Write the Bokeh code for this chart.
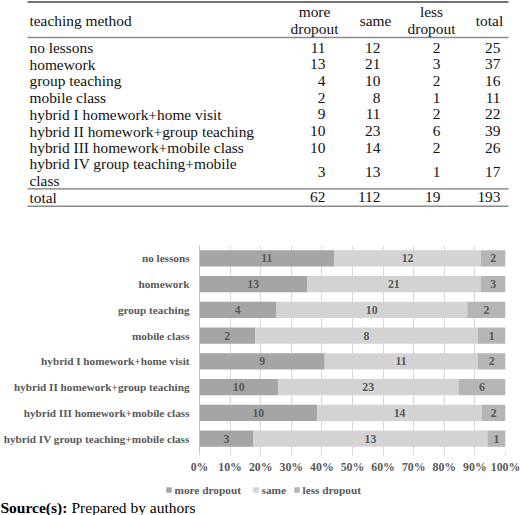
import pandas as pd
from bokeh.plotting import figure
from bokeh.models import (ColumnDataSource, Range1d, FactorRange, NumeralTickFormatter,
                          FixedTicker)
from bokeh.layouts import column
from bokeh.embed import file_html
from bokeh.resources import INLINE
from bokeh.core.properties import value

# ---------------- data ----------------
methods = ["no lessons", "homework", "group teaching", "mobile class",
           "hybrid I homework+home visit", "hybrid II homework+group teaching",
           "hybrid III homework+mobile class", "hybrid IV group teaching+mobile class"]
more_dropout = [11, 13, 4, 2, 9, 10, 10, 3]
same = [12, 21, 10, 8, 11, 23, 14, 13]
less_dropout = [2, 3, 2, 1, 2, 6, 2, 1]
series_names = ["more dropout", "same", "less dropout"]
table_headers = ["teaching method", "more\ndropout", "same", "less\ndropout", "total"]
total_label = "total"
x_ticks = [0.0, 0.1, 0.2, 0.3, 0.4, 0.5, 0.6, 0.7, 0.8, 0.9, 1.0]
source_bold = "Source(s):"
source_text = "Prepared by authors"

colors = ["#a5a5a5", "#d3d3d3", "#b5b5b5"]
SERIF = "Liberation Serif"
GRAY_TXT = "#595959"

df = pd.DataFrame({"method": methods, "more": more_dropout, "same": same, "less": less_dropout})
df["total"] = df[["more", "same", "less"]].sum(axis=1)

W = 520

# ---------------- table ----------------
TH = 235
tbl = figure(width=W, height=TH, x_range=Range1d(0, W), y_range=Range1d(TH, 0),
             output_backend="svg", toolbar_location=None, x_axis_type=None, y_axis_type=None,
             min_border=0, frame_align=False)
tbl.grid.visible = False
tbl.outline_line_color = None

FS_T = "15.4px"
ROW = 16.7      # row pitch
LH2 = 15.5      # pitch of wrapped lines inside one cell
X_LEFT = 29
RULE_L, RULE_R = 27, 508
col_right = [325, 380, 440, 500]
head_x = [314, 375, 431, 489]

def wrap(s):
    if len(s) > 34 and " " in s:
        a, b = s.rsplit(" ", 1)
        return a + "\n" + b
    return s

labels, ys = [], []
y = 47.0
for m in methods:
    lab = wrap(m)
    n = lab.count("\n") + 1
    labels.append(lab)
    ys.append(y + (n - 1) * LH2 / 2)
    y += ROW + (n - 1) * LH2
last_line = y - ROW
rule_total = last_line + 9.0
total_y = rule_total + 8.3
bottom_rule = total_y + 9.0
header_y = 19.5
top_rule = 1.5
header_rule = 37.0

tbl.segment(x0=[RULE_L] * 4, x1=[RULE_R] * 4,
            y0=[top_rule, header_rule, rule_total, bottom_rule],
            y1=[top_rule, header_rule, rule_total, bottom_rule],
            line_color=["#444444", "#8a8a8a", "#777777", "#8a8a8a"], line_width=1.4)

tbl.text(x=[X_LEFT], y=[header_y], text=[table_headers[0]], text_align="left",
         text_baseline="middle", text_font=value(SERIF), text_font_size=FS_T, text_color="#111111")
tbl.text(x=head_x, y=[header_y] * 4, text=table_headers[1:], text_align="center",
         text_baseline="middle", text_font=value(SERIF), text_font_size=FS_T,
         text_color="#111111", text_line_height=1.0)

tbl.text(x=[X_LEFT] * (len(labels) + 1), y=ys + [total_y], text=labels + [total_label],
         text_align="left", text_baseline="middle", text_font=value(SERIF),
         text_font_size=FS_T, text_color="#111111", text_line_height=1.0)

cells_x, cells_y, cells_t = [], [], []
cols = ["more", "same", "less", "total"]
for ci, c in enumerate(cols):
    for ri in range(len(df)):
        cells_x.append(col_right[ci]); cells_y.append(ys[ri]); cells_t.append(str(int(df[c].iloc[ri])))
    cells_x.append(col_right[ci]); cells_y.append(total_y); cells_t.append(str(int(df[c].sum())))
tbl.text(x=cells_x, y=cells_y, text=cells_t, text_align="right", text_baseline="middle",
         text_font=value(SERIF), text_font_size=FS_T, text_color="#111111")

# ---------------- stacked bar chart ----------------
CH = 243
cats = methods[::-1]
frac = pd.DataFrame({"method": df["method"]})
for c in ["more", "same", "less"]:
    frac[c] = df[c] / df["total"]
src = ColumnDataSource(frac)

ch = figure(width=W, height=CH, y_range=FactorRange(factors=cats), x_range=Range1d(0, 1),
            output_backend="svg", toolbar_location=None, frame_align=False,
            min_border_left=198, min_border_right=15, min_border_top=10, min_border_bottom=27)
ch.outline_line_color = None
ch.ygrid.visible = False
ch.xgrid.ticker = FixedTicker(ticks=x_ticks)
ch.xgrid.grid_line_color = "#d9d9d9"
ch.xgrid.grid_line_width = 1

rs = ch.hbar_stack(["more", "same", "less"], y="method", height=0.64, color=colors,
                   line_color=None, source=src)

lx, ly, lt = [], [], []
for ri in range(len(df)):
    left = 0.0
    for c in ["more", "same", "less"]:
        w = frac[c].iloc[ri]
        lx.append(left + w / 2); ly.append(df["method"].iloc[ri]); lt.append(str(int(df[c].iloc[ri])))
        left += w
ch.text(x=lx, y=ly, text=lt, text_align="center", text_baseline="middle",
        text_font=value(SERIF), text_font_style="bold", text_font_size="11.8px", text_color=GRAY_TXT)

xa = ch.xaxis[0]
xa.ticker = FixedTicker(ticks=x_ticks)
xa.formatter = NumeralTickFormatter(format="0%")
xa.axis_line_color = None
xa.major_tick_line_color = "#d9d9d9"
xa.major_tick_out = 4
xa.major_tick_in = 0
xa.minor_tick_line_color = None
xa.major_label_standoff = 4
xa.major_label_text_font = SERIF
xa.major_label_text_font_style = "bold"
xa.major_label_text_font_size = "11.8px"
xa.major_label_text_color = GRAY_TXT

ya = ch.yaxis[0]
ya.axis_line_color = "#bfbfbf"
ya.major_tick_line_color = None
ya.minor_tick_line_color = None
ya.major_tick_out = 0
ya.major_label_standoff = 10
ya.major_label_text_font = SERIF
ya.major_label_text_font_style = "bold"
ya.major_label_text_font_size = "11.2px"
ya.major_label_text_color = GRAY_TXT

# ---------------- legend row + source line ----------------
BH = 37
bf = figure(width=W, height=BH, x_range=Range1d(0, W), y_range=Range1d(BH, 0),
            output_backend="svg", toolbar_location=None, x_axis_type=None, y_axis_type=None,
            min_border=0, frame_align=False)
bf.grid.visible = False
bf.outline_line_color = None

legend_x = [166, 253, 294]   # layout: left edge of each legend swatch
LEG_Y = 11.5
bf.rect(x=[lx_ + 2.5 for lx_ in legend_x], y=[LEG_Y] * 3, width=5.5, height=5.5,
        fill_color=colors, line_color=None)
bf.text(x=[lx_ + 8 for lx_ in legend_x], y=[LEG_Y] * 3, text=series_names, text_align="left",
        text_baseline="middle", text_font=value(SERIF), text_font_style="bold",
        text_font_size="11.3px", text_color=GRAY_TXT)

SRC_Y = 28.5
bf.text(x=[0], y=[SRC_Y], text=[source_bold], text_align="left", text_baseline="middle",
        text_font=value(SERIF), text_font_style="bold", text_font_size="15.5px", text_color="#000000")
bf.text(x=[71], y=[SRC_Y], text=[source_text], text_align="left", text_baseline="middle",
        text_font=value(SERIF), text_font_size="15.5px", text_color="#000000")

layout = column(tbl, ch, bf, spacing=0)
open("out.html", "w").write(file_html(layout, INLINE))
